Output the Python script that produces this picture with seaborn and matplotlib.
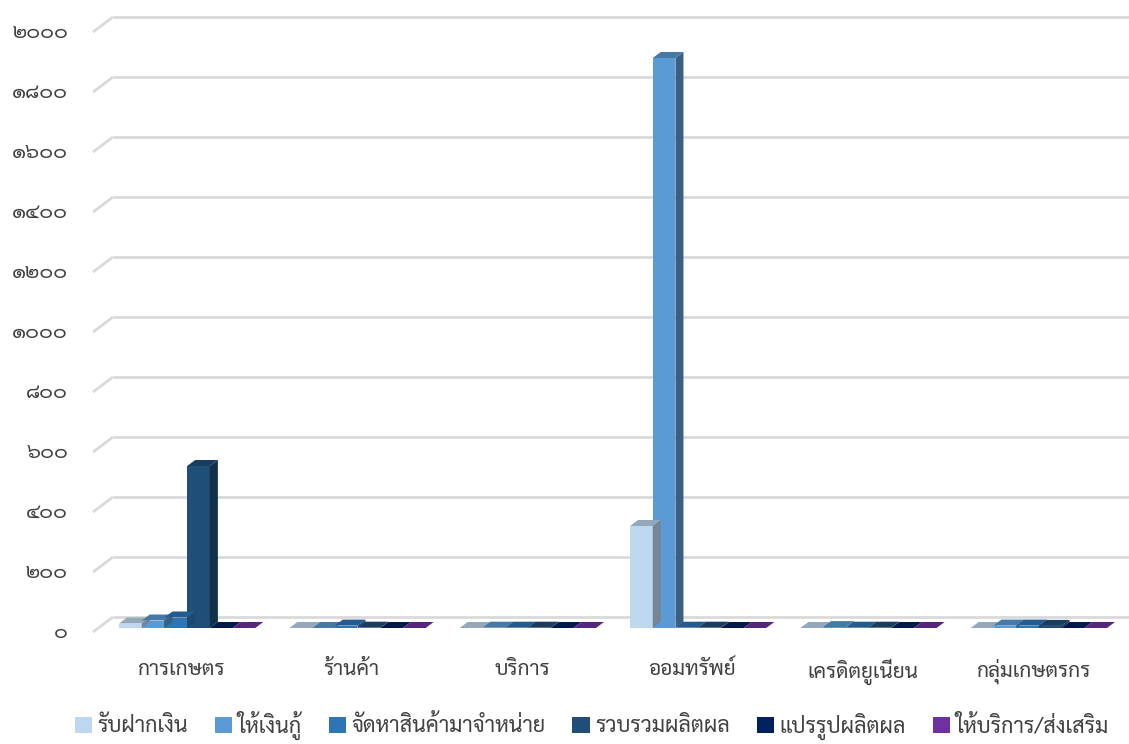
import matplotlib
matplotlib.use("Agg")
import matplotlib.pyplot as plt
import matplotlib.colors as mcolors
import matplotlib.transforms as mtransforms
from matplotlib.patches import Polygon, Patch
from matplotlib import font_manager
import numpy as np
import pandas as pd
import seaborn as sns

# ---------------- data ----------------
categories = ['การเกษตร', 'ร้านค้า', 'บริการ', 'ออมทรัพย์', 'เครดิตยูเนี่ยน', 'กลุ่มเกษตรกร']
series = ['รับฝากเงิน', 'ให้เงินกู้', 'จัดหาสินค้ามาจำหน่าย', 'รวบรวมผลิตผล', 'แปรรูปผลิตผล', 'ให้บริการ/ส่งเสริม']
deposit = [15, 0, 0, 340, 0, 0]
loans = [25, 0, 1, 1900, 3, 8]
supply = [35, 8, 1, 1, 1, 8]
collect = [540, 1, 1, 1, 1, 7]
process = [0, 0, 0, 0, 0, 0]
service = [0, 0, 0, 0, 0, 0]
series_values = [deposit, loans, supply, collect, process, service]
colors = ['#BDD7EE', '#5B9BD5', '#2E75B6', '#1F4E79', '#002060', '#7030A0']
yticks = [0, 200, 400, 600, 800, 1000, 1200, 1400, 1600, 1800, 2000]
ytick_labels = ['๐', '๒๐๐', '๔๐๐', '๖๐๐', '๘๐๐', '๑๐๐๐', '๑๒๐๐', '๑๔๐๐', '๑๖๐๐', '๑๘๐๐', '๒๐๐๐']

df = pd.DataFrame({
    'cat': categories * len(series),
    'series': [s for s in series for _ in categories],
    'value': [v for vals in series_values for v in vals],
})

# ---------------- fonts ----------------
sns.set_theme(style='white')
avail = {f.name for f in font_manager.fontManager.ttflist}
thai = next((n for n in ['Sarabun', 'Noto Sans Thai', 'Noto Sans Thai Looped', 'Anuphan'] if n in avail), 'DejaVu Sans')
plt.rcParams['font.family'] = [thai, 'DejaVu Sans']
TXT = '#404040'

W, H = 1129, 744
fig = plt.figure(figsize=(W / 100, H / 100), dpi=100)
# axes = front plane of bars: baseline y=628 px, 2000 at y=28 px
left_px, right_px = 102, 1124
bot_px, top_px = 628, 28
ax = fig.add_axes([left_px / W, 1 - bot_px / H, (right_px - left_px) / W, (bot_px - top_px) / H])

sns.barplot(data=df, x='cat', y='value', hue='series', hue_order=series,
            palette=colors, order=categories, width=0.8, saturation=1,
            linewidth=0, ax=ax, legend=False, zorder=3)
ax.set_xlim(-0.5, len(categories) - 0.5)
ax.set_ylim(0, 2000)
for s in ax.spines.values():
    s.set_visible(False)
ax.set_xlabel('')
ax.set_ylabel('')
ax.set_yticks(yticks)
ax.set_yticklabels([])
ax.tick_params(axis='both', length=0)
ax.set_xticks(range(len(categories)))
ax.set_xticklabels(categories, fontsize=15, color=TXT)
ax.tick_params(axis='x', pad=22)
shift = mtransforms.ScaledTranslation(-6 / 100, 0, fig.dpi_scale_trans)
for lab in ax.get_xticklabels():
    lab.set_transform(lab.get_transform() + shift)

# pixel -> data conversion
px_per_x = (right_px - left_px) / len(categories)
px_per_y = (bot_px - top_px) / 2000.0

def d(dxp, dyp):
    return dxp / px_per_x, dyp / px_per_y

# back wall gridlines with slanted left floor segment
gdx, gdy = d(11, 11)
sdx, sdy = d(-9, -4)
for t, lab in zip(yticks, ytick_labels):
    ax.plot([-0.5 + sdx, -0.5 + gdx], [t + sdy, t + gdy], color='#D9D9D9', lw=2.0,
            clip_on=False, zorder=1, solid_capstyle='butt')
    ax.plot([-0.5 + gdx, len(categories) - 0.5 + 0.2], [t + gdy, t + gdy], color='#D9D9D9',
            lw=2.0, clip_on=False, zorder=1, solid_capstyle='butt')
    ax.text(-0.5 + sdx - 25 / px_per_x, t + sdy, lab, ha='right', va='center',
            fontsize=15, color=TXT)

# 3D faces from bar geometry
bdx, bdy = d(8, 6)

def shade(c, f):
    r, g, b = mcolors.to_rgb(c)
    return (r * f, g * f, b * f)

for p in list(ax.patches):
    x0, w, h = p.get_x(), p.get_width(), p.get_height()
    col = p.get_facecolor()
    top = Polygon([(x0, h), (x0 + w, h), (x0 + w + bdx, h + bdy), (x0 + bdx, h + bdy)],
                  closed=True, facecolor=shade(col, 0.78), edgecolor='none', zorder=3, clip_on=False)
    side = Polygon([(x0 + w, 0), (x0 + w, h), (x0 + w + bdx, h + bdy), (x0 + w + bdx, bdy)],
                   closed=True, facecolor=shade(col, 0.62), edgecolor='none', zorder=3, clip_on=False)
    ax.add_patch(side)
    ax.add_patch(top)

# legend
handles = [Patch(facecolor=c, edgecolor='none') for c in colors]
fig.legend(handles, series, loc='lower center', bbox_to_anchor=(0.524, -0.02), ncol=6,
           frameon=False, fontsize=15.5, handlelength=0.8, handleheight=0.8,
           handletextpad=0.25, columnspacing=1.25, labelcolor=TXT)

fig.savefig('out.png', dpi=100)
